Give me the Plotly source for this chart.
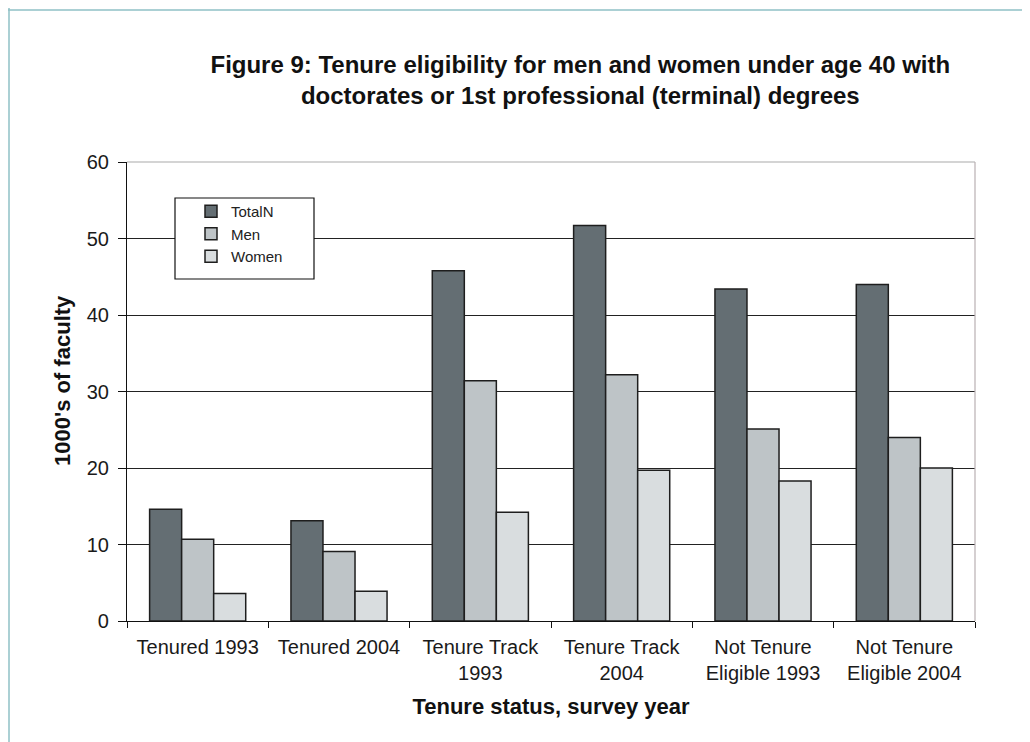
import plotly.graph_objects as go

categories = ["Tenured 1993", "Tenured 2004", "Tenure Track<br>1993", "Tenure Track<br>2004",
              "Not Tenure<br>Eligible 1993", "Not Tenure<br>Eligible 2004"]
total_n = [14.6, 13.1, 45.8, 51.7, 43.4, 44.0]
men = [10.7, 9.1, 31.4, 32.2, 25.1, 24.0]
women = [3.6, 3.9, 14.2, 19.7, 18.3, 20.0]
series_names = ["TotalN", "Men", "Women"]
y_ticks = [0, 10, 20, 30, 40, 50, 60]

colors = ["#646e73", "#bec4c7", "#d9dddf"]
FONT = "Liberation Sans, Arial, sans-serif"
BOLD = "Liberation Sans, Arial, sans-serif"

W, H = 1022, 734
L, T, R, B = 119, 154, 55, 121
PW, PH = W - L - R, H - T - B

fig = go.Figure()
for name, vals, col in zip(series_names, [total_n, men, women], colors):
    fig.add_trace(go.Bar(name=name, x=categories, y=vals,
                         marker=dict(color=col, line=dict(color="#1e1e1e", width=1.5))))

fig.update_layout(
    width=W, height=H,
    paper_bgcolor="white", plot_bgcolor="white",
    margin=dict(l=L, r=R, t=T, b=B, autoexpand=False),
    barmode="group", bargap=0.32, bargroupgap=0,
    font=dict(family=FONT, color="#1a1a1a"),
    title=dict(text="<b>Figure 9: Tenure eligibility for men and women under age 40 with<br>doctorates or 1st professional (terminal) degrees</b>",
               x=0.56, xanchor="center", y=1 - 65 / H, yanchor="middle",
               font=dict(family=BOLD, size=24, color="#111")),
    legend=dict(x=(183 - L) / PW, y=1 - (187 - T) / PH, xanchor="left", yanchor="top",
                bgcolor="rgba(0,0,0,0)", borderwidth=0,
                font=dict(size=15, color="#222"), traceorder="normal"),
    showlegend=True,
)
fig.update_xaxes(
    type="category", showline=True, linecolor="#111", linewidth=1.2,
    ticks="outside", tickson="boundaries", ticklen=6, tickcolor="#111",
    tickfont=dict(size=20, family=FONT, color="#1a1a1a"), ticklabelstandoff=8,
    title=dict(text="<b>Tenure status, survey year</b>", font=dict(size=22, family=BOLD, color="#111"),
               standoff=15),
    showgrid=False, automargin=False,
)
fig.update_yaxes(
    range=[0, 60], tickvals=y_ticks, showline=True, linecolor="#111", linewidth=1.2,
    ticks="outside", ticklen=8, tickcolor="#111",
    showgrid=True, gridcolor="#222", gridwidth=1,
    tickfont=dict(size=20, family=FONT, color="#1a1a1a"), ticklabelstandoff=5,
    zeroline=False, automargin=False,
)
fig.add_annotation(text="<b>1000's of faculty</b>", textangle=-90, showarrow=False,
                   xref="paper", yref="paper", x=(54 - L) / PW, y=1 - (373 - T) / PH,
                   xanchor="center", yanchor="middle",
                   font=dict(size=22, family=BOLD, color="#111"))
# plot-area border (top / right) in gray
fig.add_shape(type="line", xref="paper", yref="paper", x0=0, x1=1, y0=1, y1=1,
              line=dict(color="#a9a9a9", width=1.2), layer="above")
fig.add_shape(type="line", xref="paper", yref="paper", x0=1, x1=1, y0=0, y1=1,
              line=dict(color="#b9b0b3", width=1.2), layer="above")
# legend box
fig.add_shape(type="rect", xref="paper", yref="paper",
              x0=(175 - 8 - L) / PW, x1=(314 - 8 - L) / PW,
              y0=1 - (279 - 8 - T) / PH, y1=1 - (198 - 8 - T) / PH,
              fillcolor="white", line=dict(color="#111", width=1.2), layer="above")
# outer frame lines (teal) top and left
fig.add_shape(type="line", xref="paper", yref="paper", x0=-L / PW, x1=1 + R / PW,
              y0=1 + (T - 2) / PH, y1=1 + (T - 2) / PH,
              line=dict(color="#8fc0c6", width=1.5))
fig.add_shape(type="line", xref="paper", yref="paper", x0=-(L - 1) / PW, x1=-(L - 1) / PW,
              y0=-B / PH, y1=1 + T / PH,
              line=dict(color="#8fc0c6", width=1.5))

fig.write_html("out.html")
